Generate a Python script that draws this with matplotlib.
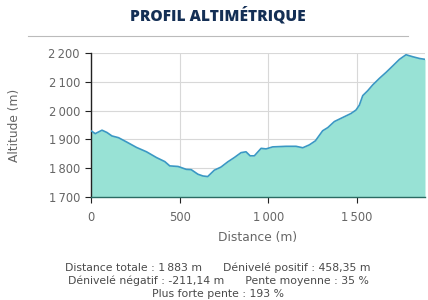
import matplotlib
matplotlib.use("Agg")
import matplotlib.pyplot as plt
from matplotlib.ticker import FuncFormatter

distance = [0, 24, 62, 90, 118, 155, 201, 257, 313, 369, 416, 444, 491, 537, 565,
            603, 631, 658, 695, 733, 771, 808, 846, 874, 897, 921, 959, 987, 1024,
            1100, 1156, 1194, 1231, 1265, 1306, 1335, 1372, 1419, 1466, 1494, 1513,
            1532, 1560, 1588, 1626, 1664, 1701, 1739, 1776, 1814, 1852, 1883]
altitude = [1930, 1920, 1932, 1924, 1912, 1906, 1891, 1872, 1857, 1837, 1823, 1808,
            1806, 1796, 1795, 1779, 1773, 1771, 1793, 1804, 1822, 1837, 1854, 1857,
            1843, 1843, 1869, 1867, 1874, 1876, 1876, 1871, 1881, 1895, 1930, 1941,
            1962, 1976, 1990, 2002, 2019, 2052, 2069, 2089, 2112, 2133, 2155, 2178,
            2194, 2187, 2181, 2178]
x_ticks = [0, 500, 1000, 1500]
y_ticks = [1700, 1800, 1900, 2000, 2100, 2200]
title = "PROFIL ALTIMÉTRIQUE"
x_label = "Distance (m)"
y_label = "Altitude (m)"
stats_lines = ["Distance totale : 1\u2009883 m      Dénivelé positif : 458,35 m",
               "Dénivelé négatif : -211,14 m      Pente moyenne : 35 %",
               "Plus forte pente : 193 %"]

plt.rcParams['font.family'] = ['DejaVu Sans']
fig = plt.figure(figsize=(4.28, 3.0), dpi=100)
ax = fig.add_axes([91/428, 1-197/300, (425-91)/428, (197-53)/300])

def fmt(v, pos):
    s = f"{int(round(v)):,}".replace(",", "\u2009")
    return s

ax.fill_between(distance, altitude, 1700, color="#98e2d5", zorder=2, linewidth=0)
ax.plot(distance, altitude, color="#3a98c4", linewidth=1.2, zorder=3)
ax.set_xlim(0, 1883)
ax.set_ylim(1700, 2200)
ax.set_xticks(x_ticks)
ax.set_yticks(y_ticks)
ax.xaxis.set_major_formatter(FuncFormatter(fmt))
ax.yaxis.set_major_formatter(FuncFormatter(fmt))
ax.grid(True, color="#d8d8d8", linewidth=0.8, zorder=1)
ax.set_axisbelow(True)
for s in ["top", "right"]:
    ax.spines[s].set_visible(False)
ax.spines["left"].set_color("#222222")
ax.spines["bottom"].set_color("#2a6b63")
ax.spines["left"].set_linewidth(1.0)
ax.spines["bottom"].set_linewidth(1.0)
ax.spines["bottom"].set_zorder(4)
ax.tick_params(axis="both", colors="#222222", labelcolor="#666666", labelsize=8.3,
               length=4, width=0.8, direction="out")
ax.tick_params(axis="x", pad=6)
ax.tick_params(axis="y", pad=4)
ax.set_xlabel(x_label, fontsize=8.8, color="#666666", labelpad=5)
ax.set_ylabel(y_label, fontsize=8.8, color="#666666", labelpad=20)

fig.text(218/428, 1-16/300, title, ha="center", va="center", fontsize=11.2,
         fontweight="heavy", color="#142f55", family=["Open Sans", "DejaVu Sans"])
fig.add_artist(plt.Line2D([28/428, 408/428], [1-36/300, 1-36/300], color="#bbbbbb",
                          linewidth=0.8))
for i, line in enumerate(stats_lines):
    fig.text(218/428, 1-(268 + 13*i)/300, line, ha="center", va="center",
             fontsize=7.8, color="#4a4a4a")

fig.savefig("out.png", dpi=100)
